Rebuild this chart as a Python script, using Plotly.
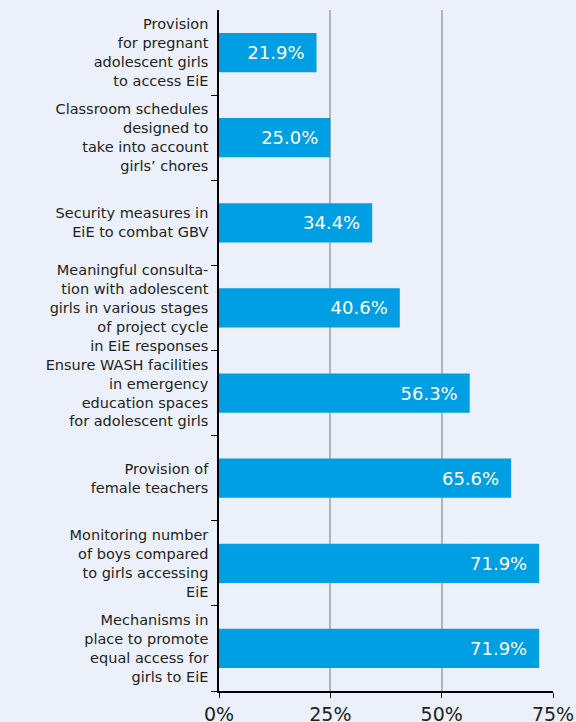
import plotly.graph_objects as go

# measures and share of responses, top to bottom
labels = [
    "Provision<br>for pregnant<br>adolescent girls<br>to access EiE",
    "Classroom schedules<br>designed to<br>take into account<br>girls\u2019 chores",
    "Security measures in<br>EiE to combat GBV",
    "Meaningful consulta-<br>tion with adolescent<br>girls in various stages<br>of project cycle<br>in EiE responses",
    "Ensure WASH facilities<br>in emergency<br>education spaces<br>for adolescent girls",
    "Provision of<br>female teachers",
    "Monitoring number<br>of boys compared<br>to girls accessing<br>EiE",
    "Mechanisms in<br>place to promote<br>equal access for<br>girls to EiE",
]
values = [21.9, 25.0, 34.4, 40.6, 56.3, 65.6, 71.9, 71.9]
ids = [f"c{i}" for i in range(len(labels))]

bar_color = "#009fe3"
bg = "#ebf0fa"
text_color = "#231f20"

fig = go.Figure()
fig.add_trace(go.Bar(
    x=values,
    y=ids,
    orientation="h",
    marker=dict(color=bar_color, line=dict(width=0)),
    text=[f"{v:.1f}%\u2002" for v in values],
    textposition="inside",
    insidetextanchor="end",
    textfont=dict(family="DejaVu Sans", size=18, color="white"),
    cliponaxis=False,
))

fig.update_layout(
    width=576,
    height=722,
    margin=dict(l=219, r=23, t=10, b=31),
    paper_bgcolor=bg,
    plot_bgcolor=bg,
    bargap=0.54,
    showlegend=False,
    font=dict(family="DejaVu Sans", color=text_color),
)
fig.update_xaxes(
    range=[0, 75],
    tickvals=[0, 25, 50, 75],
    ticktext=["0%", "25%", "50%", "75%"],
    showgrid=True,
    gridcolor="#b4b4b4",
    gridwidth=1.5,
    zeroline=False,
    showline=True,
    linecolor="black",
    linewidth=1.5,
    ticks="outside",
    ticklen=5,
    tickcolor="black",
    tickfont=dict(size=19, color=text_color),
    automargin=False,
)
fig.update_yaxes(
    categoryorder="array",
    categoryarray=ids[::-1],
    tickvals=ids,
    ticktext=labels,
    tickson="boundaries",
    ticks="outside",
    ticklen=6,
    tickcolor="black",
    showgrid=False,
    showline=True,
    linecolor="black",
    linewidth=1.5,
    tickfont=dict(size=14.5, color=text_color),
    ticklabelstandoff=6,
    automargin=False,
)

# remove the default page margin so the figure sits at the window's corner
fig.write_html(
    "out.html",
    config={"displayModeBar": False},
    post_script="document.body.style.margin='0';"
                "document.body.style.overflow='hidden';"
                "document.body.style.background='" + bg + "';",
)
